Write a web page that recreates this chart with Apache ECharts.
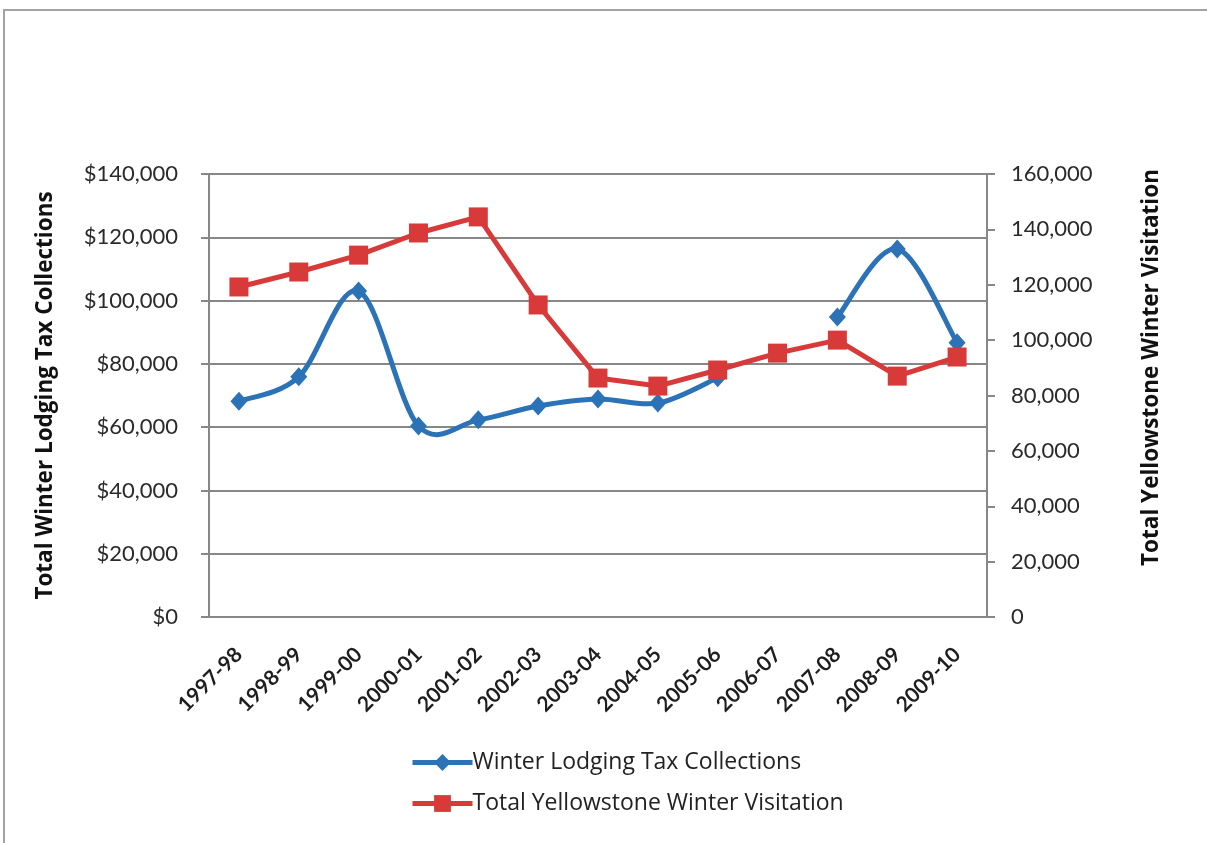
<!DOCTYPE html>
<html>
<head>
<meta charset="utf-8">
<script src="https://cdn.jsdelivr.net/npm/echarts@6/dist/echarts.min.js"></script>
<style>
  html, body { margin: 0; padding: 0; background: #fff; }
  #chart { width: 1207px; height: 843px; }
</style>
</head>
<body>
<div id="chart"></div>
<script>
// Winter seasons
const seasons = ['1997-98', '1998-99', '1999-00', '2000-01', '2001-02', '2002-03', '2003-04',
                 '2004-05', '2005-06', '2006-07', '2007-08', '2008-09', '2009-10'];

// Winter lodging tax collected per season (dollars); 2006-07 not reported
const lodgingTax = [68200, 75900, 103000, 60400, 62300, 66700, 68900,
                    67600, 75600, null, 94800, 116300, 86700];

// Total winter visitors to Yellowstone per season
const winterVisits = [119200, 124600, 130700, 138700, 144500, 112700, 86300,
                      83400, 89200, 95300, 100000, 87000, 93900];

const leftTicks = { min: 0, max: 140000, step: 20000 };
const rightTicks = { min: 0, max: 160000, step: 20000 };

const FONT = 'Lato, "Open Sans", sans-serif';
const WIDE_FONT = '"Open Sans", Lato, sans-serif';
const GRID_GREY = '#878787';
const BLUE = '#2b72b7';
const RED = '#d83a3a';

// Cardinal (Catmull-Rom) spline through the tax points, broken where a season is missing.
function smoothPath(api) {
  const runs = [];
  let run = [];
  lodgingTax.forEach((v, i) => {
    if (v == null) { if (run.length) runs.push(run); run = []; }
    else run.push(api.coord([i, v]));
  });
  if (run.length) runs.push(run);

  let d = '';
  runs.forEach(pts => {
    d += 'M' + pts[0][0] + ' ' + pts[0][1];
    for (let i = 0; i < pts.length - 1; i++) {
      const p0 = pts[Math.max(i - 1, 0)];
      const p1 = pts[i];
      const p2 = pts[i + 1];
      const p3 = pts[Math.min(i + 2, pts.length - 1)];
      const c1x = p1[0] + (p2[0] - p0[0]) / 6, c1y = p1[1] + (p2[1] - p0[1]) / 6;
      const c2x = p2[0] - (p3[0] - p1[0]) / 6, c2y = p2[1] - (p3[1] - p1[1]) / 6;
      d += ' C' + c1x + ' ' + c1y + ' ' + c2x + ' ' + c2y + ' ' + p2[0] + ' ' + p2[1];
    }
  });
  return d;
}

const chart = echarts.init(document.getElementById('chart'));

chart.setOption({
  backgroundColor: '#fff',
  animation: false,
  textStyle: { fontFamily: FONT },
  graphic: [{
    type: 'rect',
    shape: { x: 4, y: 10, width: 1230, height: 900 },
    style: { fill: 'none', stroke: '#a3a3a3', lineWidth: 2 },
    silent: true,
    z: -1
  }],
  grid: { left: 209, right: 220, top: 174, bottom: 226, containLabel: false },
  legend: {
    orient: 'vertical',
    left: 405,
    top: 746,
    itemWidth: 60,
    itemHeight: 21,
    itemGap: 18,
    lineStyle: { width: 5 },
    textStyle: { fontFamily: WIDE_FONT, fontSize: 23, color: '#222', padding: [0, 0, 0, -5] },
    data: ['Winter Lodging Tax Collections', 'Total Yellowstone Winter Visitation']
  },
  xAxis: {
    type: 'category',
    data: seasons,
    boundaryGap: true,
    axisLine: { show: true, lineStyle: { color: GRID_GREY, width: 2 } },
    axisTick: { show: false },
    axisLabel: {
      rotate: 45,
      margin: 34,
      fontFamily: FONT,
      fontSize: 21,
      fontWeight: 'bold',
      color: '#1e1e1e'
    }
  },
  yAxis: [{
    type: 'value',
    position: 'left',
    min: leftTicks.min,
    max: leftTicks.max,
    interval: leftTicks.step,
    name: 'Total Winter Lodging Tax Collections',
    nameLocation: 'middle',
    nameGap: 152,
    nameRotate: 90,
    nameTextStyle: { fontFamily: WIDE_FONT, fontSize: 22.5, fontWeight: 'bold', color: '#111' },
    axisLine: { show: true, lineStyle: { color: GRID_GREY, width: 2 } },
    axisTick: { show: true, inside: false, length: 8, lineStyle: { color: GRID_GREY, width: 2 } },
    splitLine: { show: true, lineStyle: { color: GRID_GREY, width: 2 } },
    axisLabel: {
      margin: 31,
      fontFamily: FONT,
      fontSize: 22,
      color: '#2a2a2a',
      formatter: v => '$' + v.toLocaleString('en-US')
    }
  }, {
    type: 'value',
    position: 'right',
    min: rightTicks.min,
    max: rightTicks.max,
    interval: rightTicks.step,
    name: 'Total Yellowstone Winter Visitation',
    nameLocation: 'middle',
    nameGap: 153,
    nameRotate: 90,
    nameTextStyle: { fontFamily: WIDE_FONT, fontSize: 22.5, fontWeight: 'bold', color: '#111', padding: [0, 0, 0, 56] },
    axisLine: { show: true, lineStyle: { color: GRID_GREY, width: 2 } },
    axisTick: { show: true, inside: false, length: 8, lineStyle: { color: GRID_GREY, width: 2 } },
    splitLine: { show: false },
    axisLabel: {
      margin: 24,
      fontFamily: FONT,
      fontSize: 22,
      color: '#2a2a2a',
      formatter: v => v.toLocaleString('en-US')
    }
  }],
  series: [{
    // smooth curve for the tax series
    name: 'lodgingTaxCurve',
    type: 'custom',
    coordinateSystem: 'cartesian2d',
    yAxisIndex: 0,
    data: lodgingTax.map((v, i) => [i, v]),
    silent: true,
    z: 1,
    renderItem: (params, api) => {
      if (params.dataIndex !== 0) return null;
      return {
        type: 'path',
        shape: { pathData: smoothPath(api) },
        style: { stroke: BLUE, lineWidth: 5, fill: 'none', lineJoin: 'round', lineCap: 'round' }
      };
    }
  }, {
    name: 'Winter Lodging Tax Collections',
    type: 'line',
    yAxisIndex: 0,
    data: lodgingTax,
    connectNulls: false,
    symbol: 'diamond',
    symbolSize: [17, 19],
    itemStyle: { color: BLUE },
    lineStyle: { color: BLUE, width: 0 },
    z: 2
  }, {
    name: 'Total Yellowstone Winter Visitation',
    type: 'line',
    yAxisIndex: 1,
    data: winterVisits,
    smooth: false,
    symbol: 'rect',
    symbolSize: 19,
    itemStyle: { color: RED },
    lineStyle: { color: RED, width: 5 },
    z: 3
  }]
});
</script>
</body>
</html>
